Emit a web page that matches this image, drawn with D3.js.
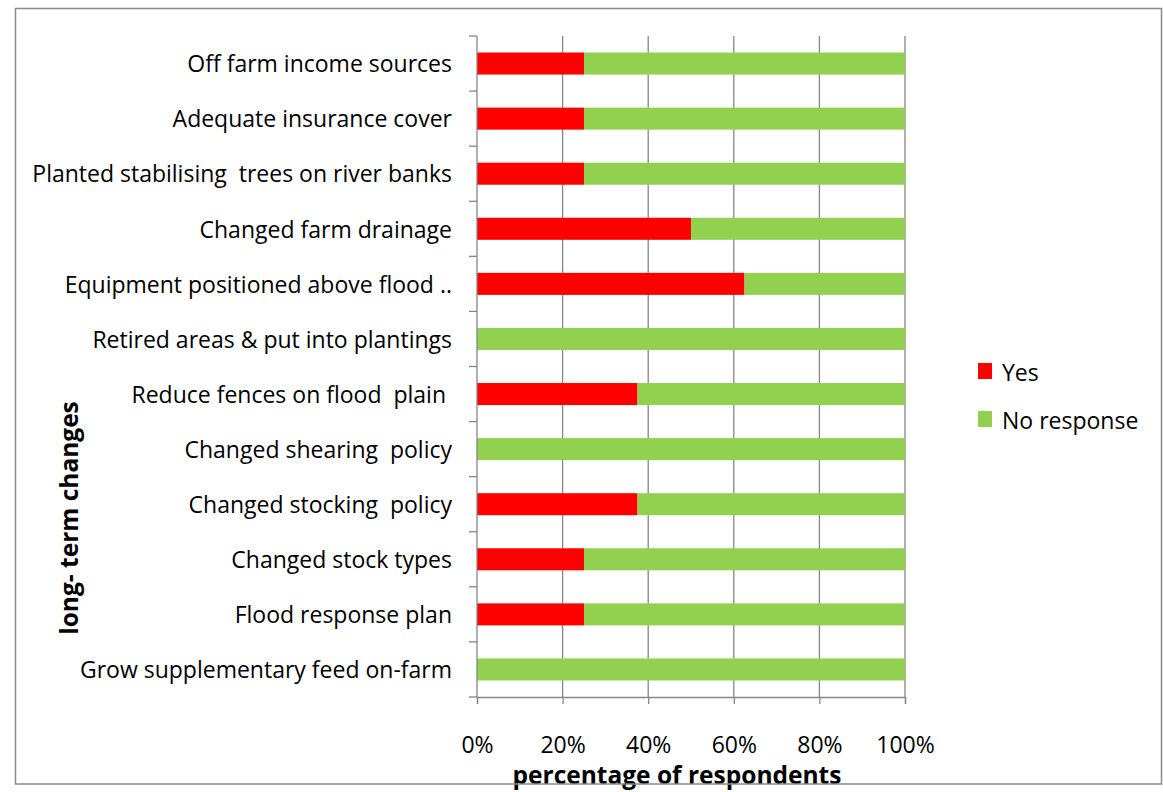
<!DOCTYPE html>
<html>
<head>
<meta charset="utf-8">
<script src="https://cdn.jsdelivr.net/npm/d3@7"></script>
<style>
  html, body { margin: 0; padding: 0; background: #fff; }
  svg { display: block; font-family: "Open Sans", Lato, sans-serif; }
</style>
</head>
<body>
<svg id="chart" width="1163" height="792"></svg>
<script>
// Long-term flood adaptation changes, share of respondents
const categories = [
  "Off farm income sources",
  "Adequate insurance cover",
  "Planted stabilising  trees on river banks",
  "Changed farm drainage",
  "Equipment positioned above flood ..",
  "Retired areas & put into plantings",
  "Reduce fences on flood  plain ",
  "Changed shearing  policy",
  "Changed stocking  policy",
  "Changed stock types",
  "Flood response plan",
  "Grow supplementary feed on-farm"
];
const yesValues = [25, 25, 25, 50, 62.5, 0, 37.5, 0, 37.5, 25, 25, 0];
const noResponseValues = [75, 75, 75, 50, 37.5, 100, 62.5, 100, 62.5, 75, 75, 100];
const seriesNames = ["Yes", "No response"];
const seriesColors = ["#FF0000", "#92D050"];
const xTicks = [0, 20, 40, 60, 80, 100];

const svg = d3.select("#chart");
const plot = { left: 477, right: 905, top: 36, bottom: 697 };

const x = d3.scaleLinear().domain([0, 100]).range([plot.left, plot.right]);
const y = d3.scaleBand().domain(categories).range([plot.top, plot.bottom]).paddingInner(0.6).paddingOuter(0.3);
const yOuter = d3.scaleBand().domain(categories).range([plot.top, plot.bottom]);

const gridColor = "#868686";
const labelSize = 23;
const titleSize = 24.5;

// vertical gridlines
svg.append("g").selectAll("line")
  .data(xTicks.slice(1))
  .join("line")
  .attr("x1", d => x(d)).attr("x2", d => x(d))
  .attr("y1", plot.top).attr("y2", plot.bottom)
  .attr("stroke", gridColor).attr("stroke-width", 1.3);

// stacked bars
const rows = categories.map((c, i) => ({ cat: c, yes: yesValues[i], no: noResponseValues[i] }));
const stack = d3.stack().keys(["yes", "no"])(rows);
svg.append("g").selectAll("g")
  .data(stack)
  .join("g")
  .attr("fill", (d, i) => seriesColors[i])
  .selectAll("rect")
  .data(d => d)
  .join("rect")
  .attr("x", d => x(d[0]))
  .attr("width", d => x(d[1]) - x(d[0]))
  .attr("y", d => y(d.data.cat))
  .attr("height", y.bandwidth());

// y axis with band-boundary ticks
const yAxisG = svg.append("g");
yAxisG.append("line")
  .attr("x1", plot.left).attr("x2", plot.left)
  .attr("y1", plot.top).attr("y2", plot.bottom)
  .attr("stroke", gridColor).attr("stroke-width", 1.3);
const boundaries = categories.map(c => yOuter(c)).concat([plot.bottom]);
yAxisG.selectAll("line.tick")
  .data(boundaries)
  .join("line")
  .attr("class", "tick")
  .attr("x1", plot.left - 8).attr("x2", plot.left)
  .attr("y1", d => d).attr("y2", d => d)
  .attr("stroke", gridColor).attr("stroke-width", 1.3);
yAxisG.selectAll("text")
  .data(categories)
  .join("text")
  .attr("x", 452)
  .attr("y", d => yOuter(d) + yOuter.bandwidth() / 2)
  .attr("dy", "0.38em")
  .attr("text-anchor", "end")
  .attr("font-size", labelSize)
  .attr("fill", "#000")
  .style("white-space", "pre")
  .text(d => d);

// x axis
const xAxis = d3.axisBottom(x).tickValues(xTicks).tickFormat(d => d + "%").tickSize(7).tickPadding(33);
const xAxisG = svg.append("g").attr("transform", `translate(0,${plot.bottom})`).call(xAxis);
xAxisG.select(".domain").attr("stroke", gridColor).attr("stroke-width", 1.3);
xAxisG.selectAll(".tick line").attr("stroke", gridColor).attr("stroke-width", 1.3);
xAxisG.selectAll(".tick text")
  .attr("font-size", labelSize).attr("fill", "#000")
  .attr("font-family", "'Open Sans', Lato, sans-serif");

// axis titles
svg.append("text")
  .attr("x", 677).attr("y", 784)
  .attr("text-anchor", "middle")
  .attr("font-size", titleSize).attr("font-weight", "bold")
  .text("percentage of respondents");

svg.append("text")
  .attr("transform", "translate(78,518) rotate(-90)")
  .attr("text-anchor", "middle")
  .attr("font-size", titleSize).attr("font-weight", "bold")
  .text("long- term changes");

// legend
const legend = svg.append("g");
seriesNames.forEach((name, i) => {
  const ly = 372 + i * 48;
  legend.append("rect")
    .attr("x", 978).attr("y", ly - 9)
    .attr("width", 14).attr("height", 16)
    .attr("fill", seriesColors[i]);
  legend.append("text")
    .attr("x", 1002).attr("y", ly)
    .attr("dy", "0.38em")
    .attr("font-size", labelSize)
    .text(name);
});

// chart frame
svg.append("rect")
  .attr("x", 15.5).attr("y", 8.5)
  .attr("width", 1146).attr("height", 775.5)
  .attr("fill", "none").attr("stroke", "#8a8a8a").attr("stroke-width", 1.5);
</script>
</body>
</html>
